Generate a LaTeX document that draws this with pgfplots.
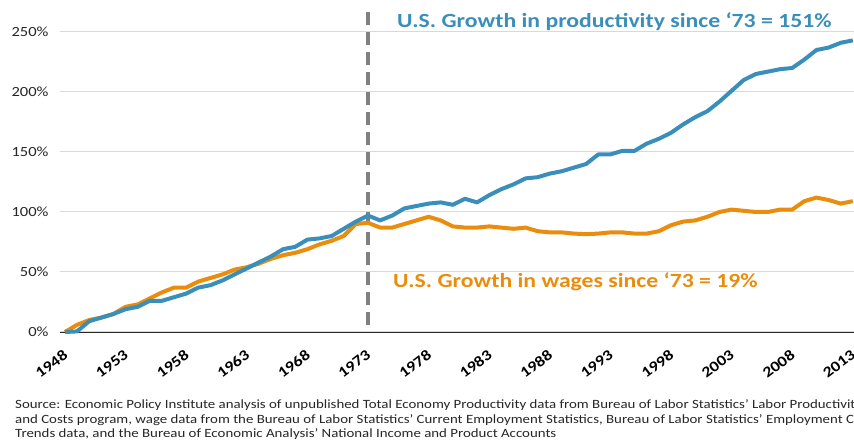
\documentclass[border=0pt]{standalone}
\usepackage{pgfplots}
\usepackage{pgfplotstable}
\pgfplotsset{compat=1.18}
\usepackage{fontspec}
\setmainfont{Carlito}[FakeStretch=1.18]
\definecolor{prodblue}{HTML}{3A8FBA}
\definecolor{wageorange}{HTML}{EA8C0C}
\definecolor{gridgray}{HTML}{D9D9D9}
\definecolor{dashgray}{HTML}{808080}
\definecolor{txt}{HTML}{262626}

\pgfplotstableread{
year prod wage
1948 0 0
1949 0.5 6
1950 9 10
1951 12 12
1952 15 15
1953 19 21
1954 21 23
1955 26 28
1956 26 33
1957 29 37
1958 32 37
1959 37 42
1960 39 45
1961 43 48
1962 48 52
1963 53 54
1964 58 57
1965 63 61
1966 69 64
1967 71 66
1968 77 69
1969 78 73
1970 80 76
1971 86 80
1972 92 90
1973 97 91
1974 93 87
1975 97 87
1976 103 90
1977 105 93
1978 107 96
1979 108 93
1980 106 88
1981 111 87
1982 108 87
1983 114 88
1984 119 87
1985 123 86
1986 128 87
1987 129 84
1988 132 83
1989 134 83
1990 137 82
1991 140 81.5
1992 148 82
1993 148 83
1994 151 83
1995 151 82
1996 157 82
1997 161 84
1998 166 89
1999 173 92
2000 179 93
2001 184 96
2002 192 100
2003 201 102
2004 210 101
2005 215 100
2006 217 100
2007 219 102
2008 220 102
2009 227 109
2010 235 112
2011 237 110
2012 241 107
2013 243 109
}\datatable

\begin{document}
\begin{tikzpicture}[x=1pt,y=1pt]
\path[use as bounding box] (-60,-112) rectangle (794,332);
\begin{axis}[
  at={(0,0)}, anchor=south west,
  scale only axis, width=794pt, height=324pt,
  xmin=1947.59, xmax=2013.1, ymin=0, ymax=270,
  clip=false,
  axis x line=bottom, axis y line=left,
  x axis line style={-, draw=txt, line width=0.8pt},
  y axis line style={draw=none},
  major tick length=0pt,
  xtick={1948,1953,...,2013},
  xticklabels={1948,1953,1958,1963,1968,1973,1978,1983,1988,1993,1998,2003,2008,2013},
  xticklabel style={font=\fontsize{15}{15}\selectfont\bfseries, text=black, rotate=37, anchor=north east, inner sep=1pt, xshift=-11pt, yshift=-11pt},
  ytick={0,50,...,250},
  yticklabels={0\%,50\%,100\%,150\%,200\%,250\%},
  yticklabel style={font=\fontsize{14}{14}\selectfont, text=txt, xshift=-8pt},
  ymajorgrids, grid style={gridgray, line width=1pt},
]
\addplot[dashgray, line width=4pt, dash pattern=on 13pt off 7pt] coordinates {(1973,6) (1973,268)};
\addplot[wageorange, line width=4pt, line join=round] table[x=year, y=wage] {\datatable};
\addplot[prodblue, line width=4pt, line join=round] table[x=year, y=prod] {\datatable};
\end{axis}
\node[anchor=west, text=prodblue, font=\fontsize{20.1}{20.1}\selectfont\bfseries, inner sep=0pt] at (337,310) {U.S. Growth in productivity since ‘73 = 151\%};
\node[anchor=west, text=wageorange, font=\fontsize{20.1}{20.1}\selectfont\bfseries, inner sep=0pt] at (333,50) {U.S. Growth in wages since ‘73 = 19\%};
\begin{scope}[every node/.style={anchor=base west, inner sep=0pt, text=txt, font=\fontsize{12.6}{12.6}\selectfont}]
\node at (-45,-76) {Source: Economic Policy Institute analysis of unpublished Total Economy Productivity data from Bureau of Labor Statistics' Labor Productivity};
\node at (-45,-91) {and Costs program, wage data from the Bureau of Labor Statistics' Current Employment Statistics, Bureau of Labor Statistics' Employment Cost};
\node at (-45,-105) {Trends data, and the Bureau of Economic Analysis' National Income and Product Accounts};
\end{scope}
\end{tikzpicture}
\end{document}
